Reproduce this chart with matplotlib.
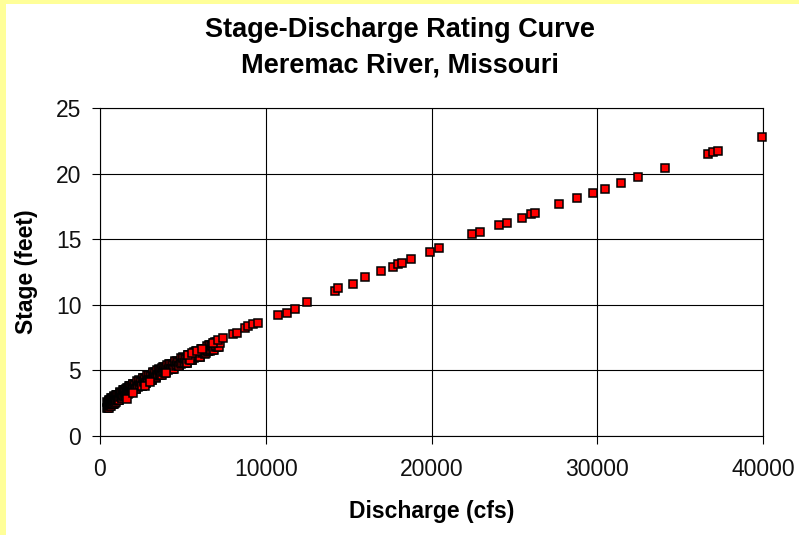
import matplotlib
matplotlib.use("Agg")
from matplotlib import pyplot as plt
from matplotlib.patches import Rectangle
import numpy as np

plt.rcParams['font.family'] = ['Liberation Sans', 'DejaVu Sans']

# dense low-flow measurements (the black band near the origin), first set
cluster_discharge = [
    430, 460, 490, 520, 550, 580, 610, 640, 670, 700,
    730, 760, 790, 820, 850, 880, 910, 940, 970, 1000,
    1040, 1080, 1120, 1160, 1200, 1240, 1280, 1320, 1360, 1400,
    1440, 1480, 1520, 1560, 1600, 1640, 1680, 1720, 1760, 1800,
    1840, 1880, 1920, 1960, 2000,
    2060, 2120, 2180, 2240, 2300, 2360, 2420, 2480, 2540, 2600,
    2660, 2720, 2780, 2840, 2900, 2960, 3020, 3080, 3140, 3200,
    3260, 3320, 3380, 3440, 3500, 3560, 3620, 3680, 3740, 3800,
    3860, 3920, 3980,
    4060, 4140, 4220, 4300, 4380, 4460, 4540, 4620, 4700, 4780,
    4860, 4940, 5020, 5100, 5180, 5260, 5340, 5420, 5500, 5580,
    5660, 5740, 5820, 5900, 5980, 6060, 6140, 6220, 6300, 6380,
    6460, 6540, 6620, 6700, 6780, 6860, 6940, 7020, 7100, 7180,
]
cluster_stage = [
    2.56, 2.19, 2.46, 2.14, 2.75, 2.44, 2.64, 2.31, 2.87, 2.48,
    2.85, 2.47, 2.73, 2.41, 3.02, 2.71, 2.91, 2.58, 3.14, 2.75,
    3.12, 2.76, 3.02, 2.71, 3.33, 3.03, 3.24, 2.91, 3.48, 3.09,
    3.47, 3.10, 3.37, 3.05, 3.66, 3.36, 3.56, 3.24, 3.81, 3.42,
    3.79, 3.42, 3.69, 3.37, 3.98,
    3.70, 3.92, 3.60, 4.19, 3.82, 4.21, 3.86, 4.13, 3.83, 4.45,
    4.16, 4.37, 4.06, 4.64, 4.26, 4.64, 4.28, 4.56, 4.25, 4.87,
    4.58, 4.79, 4.48, 5.06, 4.68, 5.06, 4.69, 4.96, 4.64, 5.26,
    4.97, 5.17, 4.85,
    5.44, 5.07, 5.46, 5.11, 5.39, 5.09, 5.72, 5.44, 5.66, 5.35,
    5.94, 5.56, 5.95, 5.60, 5.88, 5.58, 6.20, 5.92, 6.14, 5.82,
    6.41, 6.03, 6.42, 6.06, 6.34, 6.04, 6.66, 6.38, 6.60, 6.29,
    6.88, 6.51, 6.90, 6.55, 6.83, 6.53, 7.16, 6.88, 7.10, 6.79,
]

# second set of low-flow measurements
cluster2_discharge = [
    445, 475, 505, 535, 565, 595, 625, 655, 685, 715,
    745, 775, 805, 835, 865, 895, 925, 955, 985, 1015,
    1060, 1100, 1140, 1180, 1220, 1260, 1300, 1340, 1380, 1420,
    1460, 1500, 1540, 1580, 1620, 1660, 1700, 1740, 1780, 1820,
    1860, 1900, 1940, 1980, 2020,
    2090, 2150, 2210, 2270, 2330, 2390, 2450, 2510, 2570, 2630,
    2690, 2750, 2810, 2870, 2930, 2990, 3050, 3110, 3170, 3230,
    3290, 3350, 3410, 3470, 3530, 3590, 3650, 3710, 3770, 3830,
    3890, 3950, 4010,
    4100, 4180, 4260, 4340, 4420, 4500, 4580, 4660, 4740, 4820,
    4900, 4980, 5060, 5140, 5220, 5300, 5380, 5460, 5540, 5620,
    5700, 5780, 5860, 5940, 6020, 6100, 6180, 6260, 6340, 6420,
    6500, 6580, 6660, 6740, 6820, 6900, 6980, 7060, 7140, 7220,
]
cluster2_stage = [
    2.16, 2.54, 2.14, 2.70, 2.38, 2.71, 2.28, 2.58, 2.44, 2.89,
    2.44, 2.82, 2.41, 2.97, 2.65, 2.98, 2.55, 2.85, 2.71, 3.16,
    2.72, 3.11, 2.71, 3.28, 2.96, 3.30, 2.88, 3.18, 3.05, 3.51,
    3.07, 3.45, 3.05, 3.61, 3.30, 3.63, 3.21, 3.51, 3.37, 3.84,
    3.39, 3.77, 3.37, 3.93, 3.62,
    3.97, 3.57, 3.89, 3.77, 4.24, 3.81, 4.21, 3.83, 4.40, 4.09,
    4.43, 4.03, 4.34, 4.21, 4.68, 4.24, 4.64, 4.25, 4.82, 4.51,
    4.85, 4.45, 4.76, 4.63, 5.10, 4.65, 5.04, 4.65, 5.21, 4.90,
    5.23, 4.82, 5.13,
    5.01, 5.50, 5.07, 5.47, 5.09, 5.67, 5.37, 5.72, 5.31, 5.63,
    5.51, 5.99, 5.56, 5.95, 5.57, 6.15, 5.85, 6.20, 5.79, 6.11,
    5.98, 6.46, 6.02, 6.42, 6.03, 6.61, 6.31, 6.66, 6.25, 6.57,
    6.45, 6.93, 6.50, 6.90, 6.52, 7.11, 6.81, 7.16, 6.76, 7.08,
]

discharge = [
    1650, 2010, 2715, 3020, 3960, 5430, 5330, 5530, 5830, 6180,
    6840, 7140, 7440, 8000, 8240, 8750, 8950, 9250, 9550, 10740,
    11280, 11765, 12490, 14170, 14380, 15265, 15990, 16970, 17660, 17960,
    18200, 18785, 19910, 20470, 22425, 22925, 24070, 24535, 25430, 26000,
    26250, 27670, 28760, 29765, 30470, 31450, 32475, 34070, 36700, 37000,
    37285, 39920,
]
stage = [
    2.80, 3.30, 3.80, 4.09, 4.83, 5.79, 6.17, 6.35, 6.50, 6.61,
    7.11, 7.32, 7.44, 7.77, 7.82, 8.20, 8.38, 8.50, 8.59, 9.22,
    9.37, 9.66, 10.21, 11.03, 11.28, 11.56, 12.12, 12.58, 12.90, 13.09,
    13.16, 13.47, 14.02, 14.35, 15.37, 15.52, 16.08, 16.22, 16.62, 16.95,
    16.97, 17.68, 18.14, 18.50, 18.85, 19.31, 19.74, 20.43, 21.47, 21.67,
    21.75, 22.77,
]

x_ticks = [0, 10000, 20000, 30000, 40000]
y_ticks = [0, 5, 10, 15, 20, 25]

W, H = 799, 535
fig = plt.figure(figsize=(W / 100, H / 100), dpi=100, facecolor='white')

# yellow frame strips on the left and top
fig.patches.append(Rectangle((0, 0), 5.5 / W, 1, transform=fig.transFigure,
                             facecolor='#FFFF99', edgecolor='none'))
fig.patches.append(Rectangle((0, 1 - 4 / H), 1, 4 / H, transform=fig.transFigure,
                             facecolor='#FFFF99', edgecolor='none'))

ax = fig.add_axes([100 / W, 1 - 436 / H, 663 / W, 328 / H])

marker = dict(linestyle='none', marker='s', markersize=5.2,
              markerfacecolor='#FF0000', markeredgecolor='black',
              markeredgewidth=1.1, clip_on=False, zorder=3)

low_q = np.array(cluster_discharge + cluster2_discharge)
low_s = np.array(cluster_stage + cluster2_stage)
order = np.argsort(low_q, kind='stable')
ax.plot(low_q[order], low_s[order], **marker)
ax.plot(discharge, stage, **marker)

ax.set_xlim(0, 40000)
ax.set_ylim(0, 25)
ax.set_xticks(x_ticks)
ax.set_yticks(y_ticks)
ax.grid(True, color='black', linewidth=0.8)
ax.set_axisbelow(True)
for s in ax.spines.values():
    s.set_color('black')
    s.set_linewidth(0.8)
ax.tick_params(direction='out', length=5.5, width=0.8, color='black',
               labelsize=16.5, labelcolor='#111111')
ax.tick_params(axis='x', pad=10)
ax.tick_params(axis='y', pad=8)

fig.text(400 / W, 1 - 37.3 / H, 'Stage-Discharge Rating Curve', ha='center',
         va='baseline', fontsize=19.5, fontweight='bold')
fig.text(400 / W, 1 - 72.7 / H, 'Meremac River, Missouri', ha='center',
         va='baseline', fontsize=19.5, fontweight='bold')
fig.text(431.5 / W, 1 - 518.3 / H, 'Discharge (cfs)', ha='center',
         va='baseline', fontsize=16.5, fontweight='bold')
fig.text(33.3 / W, 1 - 272 / H, 'Stage (feet)', ha='center', va='baseline',
         rotation=90, rotation_mode='anchor', fontsize=16.5, fontweight='bold')

fig.savefig('out.png', dpi=100, facecolor='white')
